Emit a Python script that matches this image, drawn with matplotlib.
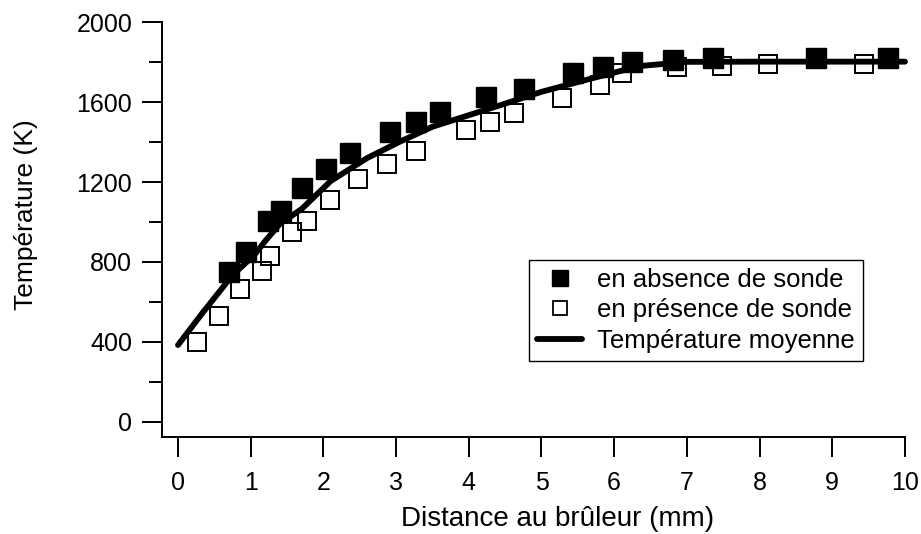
import matplotlib
matplotlib.use("Agg")
import matplotlib.pyplot as plt
from matplotlib.lines import Line2D
from matplotlib.ticker import MultipleLocator

plt.rcParams["font.family"] = ["Liberation Sans", "DejaVu Sans"]

# en absence de sonde (filled squares)
x_absence = [0.70, 0.94, 1.24, 1.42, 1.70, 2.03, 2.37, 2.92, 3.28, 3.61, 4.24,
             4.76, 5.44, 5.85, 6.25, 6.81, 7.36, 8.77, 9.77]
t_absence = [750, 850, 1005, 1056, 1169, 1264, 1347, 1453, 1499, 1552, 1625,
             1668, 1745, 1775, 1799, 1809, 1821, 1821, 1821]

# en presence de sonde (open squares)
x_presence = [0.26, 0.56, 0.85, 1.16, 1.27, 1.57, 1.78, 2.09, 2.48, 2.87, 3.27,
              3.96, 4.29, 4.62, 5.28, 5.80, 6.11, 6.86, 7.48, 8.11, 9.43]
t_presence = [398, 527, 667, 756, 831, 951, 1005, 1109, 1214, 1292, 1357,
              1461, 1499, 1544, 1620, 1687, 1745, 1775, 1781, 1791, 1791]

# temperature moyenne (thick line)
x_moy = [0.0, 0.35, 0.75, 1.05, 1.2, 1.4, 1.7, 2.1, 2.6, 3.05, 3.5, 4.0,
         4.45, 5.0, 5.7, 6.35, 7.0, 8.0, 9.0, 10.0]
t_moy = [384, 551, 734, 835, 905, 990, 1065, 1205, 1320, 1402, 1477, 1535,
         1587, 1652, 1720, 1781, 1802, 1803, 1803, 1803]

fig = plt.figure(figsize=(9.21, 5.34), dpi=100)
ax = fig.add_axes([0.1759, 0.1822, 0.8067, 0.776])

ax.plot(x_absence, t_absence, "s", color="black", markersize=14, mew=1, clip_on=False)
ax.plot(x_presence, t_presence, "s", mfc="none", mec="black", markersize=13.4, mew=1.4,
        clip_on=False)
ax.plot(x_moy, t_moy, "-", color="black", lw=4.2, solid_capstyle="round", clip_on=False)

ax.set_xlim(-0.22, 10)
ax.set_ylim(-75, 2000)
ax.set_xticks(range(0, 11))
ax.set_yticks(range(0, 2001, 400))
ax.yaxis.set_minor_locator(MultipleLocator(200))

for side in ["top", "right"]:
    ax.spines[side].set_visible(False)
for side in ["left", "bottom"]:
    ax.spines[side].set_linewidth(1.4)

ax.tick_params(axis="both", which="major", direction="out", length=14.4, width=1.4,
               labelsize=18)
ax.tick_params(axis="x", pad=10.5)
ax.tick_params(axis="y", pad=7)
ax.tick_params(axis="y", which="minor", direction="out", length=9.4, width=1.4)

ax.set_xlabel("Distance au brûleur (mm)", fontsize=20)
ax.set_ylabel("Température (K)", fontsize=19)
ax.xaxis.set_label_coords(0.532, -0.168)
ax.yaxis.set_label_coords(-0.167, 0.537)

handles = [
    Line2D([], [], ls="none", marker="s", color="black", markersize=11.5),
    Line2D([], [], ls="none", marker="s", mfc="none", mec="black", markersize=9.5, mew=1.3),
    Line2D([], [], color="black", lw=4.2, solid_capstyle="round"),
]
labels = ["en absence de sonde", "en présence de sonde", "Température moyenne"]
leg = ax.legend(handles, labels, loc="upper left", bbox_to_anchor=(0.5744, 0.5131),
                bbox_transform=fig.transFigure,
                fontsize=18.5, frameon=True, fancybox=False, framealpha=1,
                edgecolor="black", handlelength=1.75, handletextpad=0.58,
                labelspacing=0.24, borderpad=0.32, borderaxespad=0)
leg.get_frame().set_linewidth(1.0)

fig.savefig("out.png", dpi=100)
